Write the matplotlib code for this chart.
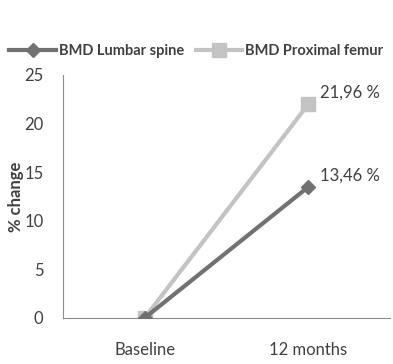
import matplotlib

matplotlib.use("Agg")
import matplotlib.pyplot as plt  # noqa: E402

categories = ["Baseline", "12 months"]
lumbar = [0.0, 13.46]
femur = [0.0, 21.96]
end_labels = ["13,46 %", "21,96 %"]
yticks = [0, 5, 10, 15, 20, 25]

DARK = "#717171"
LIGHT = "#c3c3c3"
AXIS = "#8c8c8c"
TEXT = "#404040"

plt.rcParams["font.family"] = ["Lato", "DejaVu Sans"]

fig = plt.figure(figsize=(3.93, 3.64), dpi=100)
ax = fig.add_axes((0.160, 0.1264, 0.832, 0.668))

x = [0, 1]
ax.plot(x, femur, color=LIGHT, lw=3, marker="s", ms=10.5,
        label="BMD Proximal femur", zorder=2)
ax.plot(x, lumbar, color=DARK, lw=3, marker="D", ms=7,
        label="BMD Lumbar spine", zorder=3)

ax.text(1.07, femur[1] + 1.2, end_labels[1], color=TEXT, fontsize=12,
        va="center", ha="left")
ax.text(1.07, lumbar[1] + 1.2, end_labels[0], color=TEXT, fontsize=12,
        va="center", ha="left")

ax.set_xlim(-0.5, 1.5)
ax.set_ylim(0, 25)
ax.set_xticks(x)
ax.set_xticklabels(categories)
ax.set_yticks(yticks)
ax.tick_params(length=0, colors=TEXT, labelsize=12)
ax.tick_params(axis="x", pad=17)
ax.tick_params(axis="y", pad=14)
ax.spines[["top", "right"]].set_visible(False)
ax.spines[["left", "bottom"]].set_color(AXIS)
ax.set_ylabel("% change", color=TEXT, fontsize=12, fontweight="bold",
              labelpad=0)

handles, labels = ax.get_legend_handles_labels()
fig.legend(handles[::-1], labels[::-1], loc="upper left",
           bbox_to_anchor=(-0.01, 0.915), ncol=2, frameon=False,
           prop={"size": 10.5, "weight": "bold"}, handlelength=3.2,
           columnspacing=0.8, handletextpad=0.2, labelcolor=TEXT)

fig.savefig("out.png")
